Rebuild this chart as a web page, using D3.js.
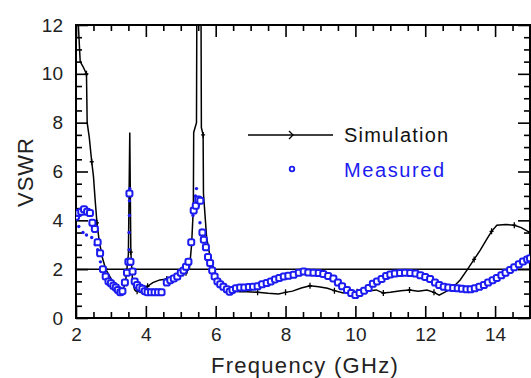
<!DOCTYPE html>
<html><head><meta charset="utf-8">
<script src="https://cdn.jsdelivr.net/npm/d3@7"></script>
<style>
html,body{margin:0;padding:0;background:#fff;}
svg{display:block;font-family:"Liberation Sans",Arial,sans-serif;}
</style></head>
<body><svg id="c" width="531" height="378"></svg>
<script>
// ---- data ----
const xTicks = [2, 4, 6, 8, 10, 12, 14];
const yTicks = [0, 2, 4, 6, 8, 10, 12];
const seriesNames = ["Simulation", "Measured"];
const refLine = 2;

const simFreq = [2.00,2.05,2.12,2.20,2.30,2.32,2.38,2.45,2.50,2.55,2.60,2.66,2.75,2.85,2.95,3.05,3.15,3.25,3.32,3.42,3.50,3.54,3.57,3.62,3.68,3.75,3.85,3.95,4.05,4.20,4.40,4.60,4.80,5.00,5.15,5.25,5.31,5.36,5.37,5.45,5.46,5.58,5.59,5.64,5.65,5.74,5.89,6.07,6.30,6.45,6.70,6.90,7.20,7.50,7.80,8.00,8.20,8.45,8.70,8.95,9.20,9.40,9.65,9.85,10.05,10.30,10.60,10.80,11.00,11.30,11.55,11.80,12.05,12.25,12.40,12.55,12.75,13.00,13.20,13.40,13.58,13.75,13.90,14.05,14.30,14.55,14.75,14.90,15.00];
const simVswr = [13.0,12.5,10.5,10.3,10.0,8.0,7.4,6.4,5.8,4.8,3.9,3.2,2.5,2.0,1.75,1.5,1.28,1.1,1.0,1.5,2.6,7.6,2.7,1.5,1.15,1.1,1.05,1.2,1.3,1.45,1.56,1.6,1.65,1.75,1.85,2.05,3.0,4.5,7.6,8.0,12.5,12.5,7.8,7.5,5.1,3.3,2.1,1.56,1.23,1.12,1.08,1.08,1.05,1.01,0.98,1.05,1.1,1.23,1.32,1.28,1.22,1.12,1.02,1.1,1.08,1.1,1.15,1.02,1.05,1.12,1.15,1.1,1.15,1.05,0.94,1.05,1.2,1.56,1.97,2.4,2.79,3.2,3.55,3.8,3.83,3.8,3.7,3.58,3.5];

const measFreq = [2.00,2.07,2.15,2.23,2.32,2.40,2.47,2.54,2.62,2.69,2.77,2.85,2.93,3.00,3.07,3.14,3.20,3.27,3.33,3.40,3.46,3.50,3.53,3.56,3.62,3.68,3.75,3.82,3.90,3.97,4.05,4.15,4.25,4.35,4.45,4.60,4.70,4.80,4.90,5.00,5.08,5.15,5.22,5.30,5.37,5.43,5.50,5.56,5.62,5.66,5.72,5.78,5.84,5.90,5.97,6.05,6.13,6.22,6.32,6.40,6.48,6.58,6.70,6.82,6.95,7.07,7.20,7.33,7.46,7.58,7.70,7.82,7.95,8.08,8.23,8.38,8.52,8.65,8.80,8.95,9.08,9.22,9.37,9.50,9.62,9.76,9.88,10.00,10.12,10.25,10.38,10.50,10.62,10.75,10.88,11.00,11.13,11.28,11.42,11.57,11.72,11.86,12.00,12.14,12.28,12.40,12.53,12.66,12.80,12.93,13.05,13.18,13.30,13.42,13.55,13.68,13.80,13.93,14.05,14.18,14.30,14.43,14.55,14.68,14.80,14.92,15.00];
const measVswr = [4.15,4.3,4.35,4.45,4.35,4.3,3.9,3.65,3.1,2.65,2.0,1.7,1.5,1.42,1.32,1.25,1.15,1.05,1.1,1.45,1.85,2.3,5.1,2.3,1.9,1.5,1.35,1.25,1.2,1.1,1.05,1.05,1.05,1.05,1.05,1.45,1.55,1.62,1.7,1.85,1.95,2.1,2.3,3.1,4.4,4.6,4.85,4.8,3.5,3.2,2.9,2.5,2.25,1.95,1.7,1.5,1.38,1.28,1.18,1.08,1.15,1.22,1.25,1.25,1.27,1.28,1.3,1.38,1.43,1.5,1.58,1.64,1.7,1.73,1.77,1.85,1.9,1.86,1.85,1.84,1.8,1.72,1.62,1.45,1.3,1.15,1.02,0.94,1.02,1.12,1.23,1.4,1.5,1.6,1.72,1.78,1.82,1.84,1.85,1.84,1.82,1.75,1.68,1.6,1.45,1.35,1.28,1.25,1.23,1.22,1.2,1.18,1.18,1.22,1.28,1.35,1.45,1.55,1.64,1.75,1.85,1.97,2.08,2.2,2.31,2.4,2.45];

// small filled dots of the measured trace
const dotFreq = [2.08,2.20,2.30,2.45,2.55,2.62,2.70,2.78,3.52,3.52,3.53,3.53,3.54,5.35,5.42,5.45,5.50,5.55,5.60,5.64,5.68];
const dotVswr = [3.75,3.5,3.4,3.3,3.0,2.8,2.3,2.0,2.8,3.5,4.2,4.8,5.3,4.2,5.0,5.3,4.6,3.9,3.6,3.4,2.9];

// ---- layout ----
const L = 76, R = 530, T = 25, B = 318;
const FONT = "'Liberation Sans',Arial,sans-serif";
const blue = "#1c1cf0";
const svg = d3.select("#c");
const x = d3.scaleLinear().domain([2, 15]).range([L, R]);
const y = d3.scaleLinear().domain([0, 12]).range([B, T]);

svg.append("defs").append("clipPath").attr("id", "clip")
  .append("rect").attr("x", L).attr("y", T).attr("width", R - L).attr("height", B - T);

const minorX = d3.range(2, 15.01, 0.5).filter(v => !xTicks.includes(v));
const minorY = d3.range(0, 12.01, 0.5).filter(v => !yTicks.includes(v));

function styleAxis(g) {
  g.select(".domain").remove();
  g.selectAll(".tick line").attr("stroke", "#000").attr("stroke-width", 1.6);
  g.selectAll(".tick text").attr("fill", "#222").style("font-size", "19px")
    .style("font-family", FONT);
}
// bottom
svg.append("g").attr("transform", `translate(0,${B})`)
  .call(d3.axisBottom(x).tickValues(xTicks).tickSize(-12).tickPadding(10).tickFormat(d3.format("d"))).call(styleAxis);
svg.append("g").attr("transform", `translate(0,${B})`)
  .call(d3.axisBottom(x).tickValues(minorX).tickSize(-6).tickFormat("")).call(styleAxis);
// top
svg.append("g").attr("transform", `translate(0,${T})`)
  .call(d3.axisTop(x).tickValues(xTicks).tickSize(-12).tickFormat("")).call(styleAxis);
svg.append("g").attr("transform", `translate(0,${T})`)
  .call(d3.axisTop(x).tickValues(minorX).tickSize(-6).tickFormat("")).call(styleAxis);
// left
svg.append("g").attr("transform", `translate(${L},0)`)
  .call(d3.axisLeft(y).tickValues(yTicks).tickSize(-12).tickPadding(13).tickFormat(d3.format("d"))).call(styleAxis);
svg.append("g").attr("transform", `translate(${L},0)`)
  .call(d3.axisLeft(y).tickValues(minorY).tickSize(-6).tickFormat("")).call(styleAxis);
// right
svg.append("g").attr("transform", `translate(${R},0)`)
  .call(d3.axisRight(y).tickValues(yTicks).tickSize(-12).tickFormat("")).call(styleAxis);
svg.append("g").attr("transform", `translate(${R},0)`)
  .call(d3.axisRight(y).tickValues(minorY).tickSize(-6).tickFormat("")).call(styleAxis);

// frame
svg.append("rect").attr("x", L).attr("y", T).attr("width", R - L).attr("height", B - T)
  .attr("fill", "none").attr("stroke", "#000").attr("stroke-width", 2);

const plot = svg.append("g").attr("clip-path", "url(#clip)");

// reference line VSWR = 2
plot.append("line").attr("x1", L).attr("x2", R).attr("y1", y(refLine)).attr("y2", y(refLine))
  .attr("stroke", "#000").attr("stroke-width", 1.5);

// simulation
const sim = simFreq.map((f, i) => [f, simVswr[i]]);
plot.append("path").datum(sim)
  .attr("d", d3.line().x(d => x(d[0])).y(d => y(d[1])))
  .attr("fill", "none").attr("stroke", "#000").attr("stroke-width", 1.5);
plot.selectAll(".sm").data(sim.filter((d, i) => i % 3 === 1)).join("path")
  .attr("d", d => `M${x(d[0])},${y(d[1]) - 3}L${x(d[0])},${y(d[1]) + 3}M${x(d[0]) - 2},${y(d[1])}L${x(d[0]) + 2},${y(d[1])}`)
  .attr("stroke", "#000").attr("stroke-width", 1.3);

// measured dots
const dots = dotFreq.map((f, i) => [f, dotVswr[i]]);
plot.selectAll(".md").data(dots).join("circle")
  .attr("cx", d => x(d[0])).attr("cy", d => y(d[1])).attr("r", 1.7).attr("fill", blue);

// measured markers
const meas = measFreq.map((f, i) => [f, measVswr[i]]);
plot.selectAll(".mm").data(meas).join("rect")
  .attr("x", d => x(d[0]) - 3).attr("y", d => y(d[1]) - 3)
  .attr("width", 6).attr("height", 6).attr("rx", 1.8)
  .attr("fill", "#fff").attr("stroke", blue).attr("stroke-width", 2);

// axis titles
svg.append("text").attr("x", 305).attr("y", 373).attr("text-anchor", "middle")
  .style("font-family", FONT).style("font-size", "22px").style("letter-spacing", "1.3px").attr("fill", "#222")
  .text("Frequency (GHz)");
svg.append("text").attr("transform", "translate(33,172) rotate(-90)").attr("text-anchor", "middle")
  .style("font-family", FONT).style("font-size", "22px").style("letter-spacing", "1px").attr("fill", "#222").text("VSWR");

// legend
const lg = svg.append("g").style("font-family", FONT);
lg.append("line").attr("x1", 248).attr("x2", 333).attr("y1", 135).attr("y2", 135)
  .attr("stroke", "#000").attr("stroke-width", 1.6);
lg.append("path").attr("d", "M289,131L293,135L289,139").attr("fill", "none").attr("stroke", "#000").attr("stroke-width", 1.3);
lg.append("text").attr("x", 344).attr("y", 141.5).style("font-size", "20px").style("letter-spacing", "1.2px")
  .attr("fill", "#111").text(seriesNames[0]);
lg.append("circle").attr("cx", 292).attr("cy", 169).attr("r", 2.3).attr("fill", "#fff")
  .attr("stroke", blue).attr("stroke-width", 1.8);
lg.append("text").attr("x", 344).attr("y", 177).style("font-size", "20px").style("letter-spacing", "1.6px")
  .attr("fill", blue).text(seriesNames[1]);
</script>
</body></html>
